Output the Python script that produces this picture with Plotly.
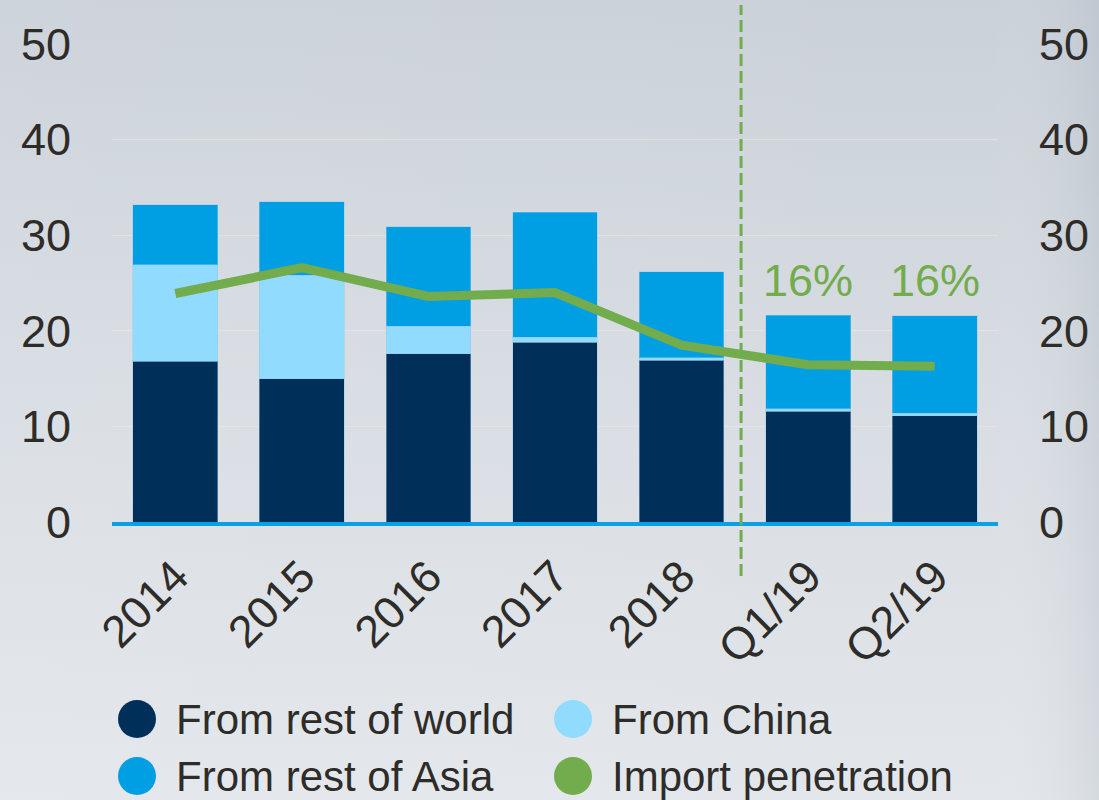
import base64
import plotly.graph_objects as go

# ---- data -------------------------------------------------------------
periods = ["2014", "2015", "2016", "2017", "2018", "Q1/19", "Q2/19"]
rest_of_world = [16.8, 15.0, 17.6, 18.8, 16.9, 11.6, 11.1]
from_china = [10.1, 10.8, 2.9, 0.5, 0.3, 0.25, 0.3]
rest_of_asia = [6.3, 7.7, 10.4, 13.1, 9.0, 9.8, 10.2]
import_penetration = [23.9, 26.6, 23.6, 24.0, 18.5, 16.45, 16.3]
labelled_periods = ["Q1/19", "Q2/19"]
y_ticks = [0, 10, 20, 30, 40, 50]

# ---- style ------------------------------------------------------------
NAVY = "#00305a"
LIGHT_BLUE = "#91dbff"
MID_BLUE = "#009fe3"
GREEN = "#72ac4d"
TEXT = "#2e2c28"
FONT = "Liberation Sans, Arial, sans-serif"

W, H = 1099, 800
L, R, T, B = 112, 101, 44, 278
PW, PH = W - L - R, H - T - B


def px_x(x):
    return (x - L) / PW


def px_y(y):
    return (H - B - y) / PH


fig = go.Figure()

for name, vals, col in [("From rest of world", rest_of_world, NAVY),
                        ("From China", from_china, LIGHT_BLUE),
                        ("From rest of Asia", rest_of_asia, MID_BLUE)]:
    fig.add_trace(go.Bar(x=periods, y=vals, name=name, marker_color=col,
                         marker_line=dict(width=1, color="rgba(150,200,235,0.45)"),
                         showlegend=False))

fig.add_trace(go.Scatter(x=periods, y=import_penetration, name="Import penetration",
                         mode="lines", yaxis="y2",
                         line=dict(color=GREEN, width=9), showlegend=False))

# percentage labels above the latest quarterly bars
totals = [a + b + c for a, b, c in zip(rest_of_world, from_china, rest_of_asia)]
for p in labelled_periods:
    i = periods.index(p)
    fig.add_annotation(x=p, y=totals[i], yref="y", text=f"{import_penetration[i]:.0f}%",
                       showarrow=False, yanchor="middle", yshift=35,
                       font=dict(size=45, color=GREEN, family=FONT))

# separator between annual and quarterly figures
fig.add_shape(type="line", xref="x", yref="paper", x0=4.47, x1=4.47,
              y0=px_y(576), y1=px_y(5),
              line=dict(color=GREEN, width=3, dash="12px,5px"))

# hand-built legend with large round swatches
legend_items = [("From rest of world", NAVY), ("From China", LIGHT_BLUE),
                ("From rest of Asia", MID_BLUE), ("Import penetration", GREEN)]
col_x = [137, 573]
row_y = [719, 776]
for k, (label, col) in enumerate(legend_items):
    cx, cy = col_x[k % 2], row_y[k // 2]
    fig.add_shape(type="circle", xref="paper", yref="paper",
                  xsizemode="pixel", ysizemode="pixel",
                  xanchor=px_x(cx), yanchor=px_y(cy),
                  x0=-19, x1=19, y0=-19, y1=19,
                  fillcolor=col, line=dict(width=0))
    fig.add_annotation(xref="paper", yref="paper", x=px_x(cx + 37), y=px_y(cy),
                       text=label, showarrow=False, xanchor="left", yanchor="middle",
                       font=dict(size=42, color=TEXT, family=FONT))

# brushed-metal style backdrop
svg = f"""<svg xmlns='http://www.w3.org/2000/svg' width='{W}' height='{H}'>
<defs>
<linearGradient id='v' x1='0' y1='0' x2='0' y2='1'>
<stop offset='0' stop-color='#cbd1d9'/>
<stop offset='0.5' stop-color='#d8dde3'/>
<stop offset='1' stop-color='#e3e7eb'/>
</linearGradient>
<linearGradient id='h' x1='0' y1='0' x2='1' y2='0'>
<stop offset='0' stop-color='#ffffff' stop-opacity='0.06'/>
<stop offset='0.9' stop-color='#ffffff' stop-opacity='0'/>
<stop offset='1' stop-color='#8a94a0' stop-opacity='0.16'/>
</linearGradient>
</defs>
<rect width='{W}' height='{H}' fill='url(#v)'/>
<rect width='{W}' height='{H}' fill='url(#h)'/>
</svg>"""
bg_uri = "data:image/svg+xml;base64," + base64.b64encode(svg.encode()).decode()
fig.add_layout_image(source=bg_uri, xref="paper", yref="paper",
                     x=-L / PW, y=1 + T / PH, sizex=W / PW, sizey=H / PH,
                     xanchor="left", yanchor="top", sizing="stretch", layer="below")

axis_font = dict(size=45, color=TEXT, family=FONT)
fig.update_layout(
    width=W, height=H,
    margin=dict(l=L, r=R, t=T, b=B, autoexpand=False),
    paper_bgcolor="#d8dde3", plot_bgcolor="rgba(0,0,0,0)",
    barmode="stack", bargap=0.33,
    showlegend=False,
    font=dict(family=FONT, color=TEXT),
    xaxis=dict(type="category", range=[-0.5, 6.5], tickangle=-45, tickfont=axis_font,
               showgrid=False, zeroline=False, showline=True,
               linecolor="#0aa0e6", linewidth=4, ticks="", ticklabelstandoff=6),
    yaxis=dict(range=[0, 50], tickvals=y_ticks, tickfont=axis_font,
               showgrid=True, gridcolor="rgba(235,232,228,0.6)", gridwidth=1,
               zeroline=False, showline=False, ticks="", ticklabelstandoff=40),
    yaxis2=dict(range=[0, 50], tickvals=y_ticks, tickfont=axis_font, overlaying="y",
                side="right", showgrid=False, zeroline=False, showline=False,
                ticks="", ticklabelstandoff=40),
)

fig.write_html("out.html")
